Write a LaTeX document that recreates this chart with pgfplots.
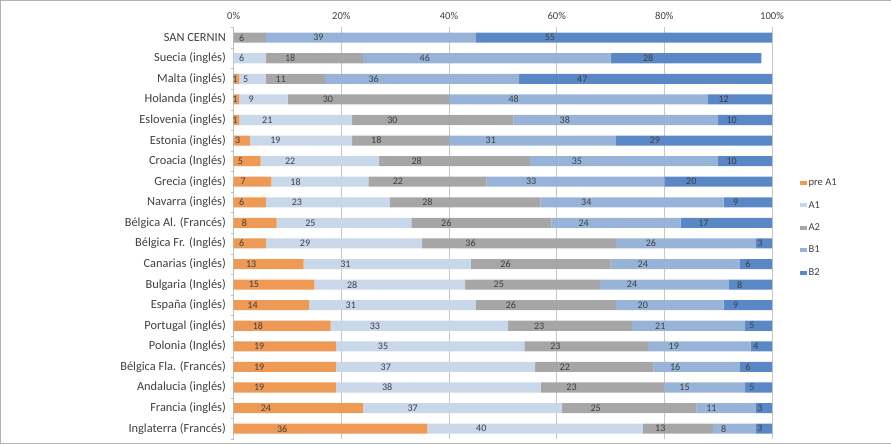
\documentclass[border=0pt]{standalone}
\usepackage{pgfplots}
\pgfplotsset{compat=1.18}
\usepackage{pgfplotstable}
\usepackage{fontspec}
\setmainfont{Carlito}
\definecolor{cpre}{HTML}{EE9A55}
\definecolor{ca1}{HTML}{C9D7EA}
\definecolor{ca2}{HTML}{A6A6A6}
\definecolor{cb1}{HTML}{97B3D8}
\definecolor{cb2}{HTML}{5A87C5}
\definecolor{labc}{HTML}{404040}
\pgfplotstableread{
idx pre A1 A2 B1 B2
0 0 0 6 39 55
1 0 6 18 46 28
2 1 5 11 36 47
3 1 9 30 48 12
4 1 21 30 38 10
5 3 19 18 31 29
6 5 22 28 35 10
7 7 18 22 33 20
8 6 23 28 34 9
9 8 25 26 24 17
10 6 29 36 26 3
11 13 31 26 24 6
12 15 28 25 24 8
13 14 31 26 20 9
14 18 33 23 21 5
15 19 35 23 19 4
16 19 37 22 16 6
17 19 38 23 15 5
18 24 37 25 11 3
19 36 40 13 8 3
}\data
\begin{document}
\begin{tikzpicture}
\begin{axis}[name=ax,
  xbar stacked, scale only axis, width=535pt, height=409pt,
  xmin=0, xmax=100, ymin=-0.5, ymax=19.5, y dir=reverse,
  bar width=10pt,
  /pgf/number format/assume math mode=true,
  axis x line*=top, axis y line*=left,
  x axis line style={draw=none},
  y axis line style={draw=gray!50},
  xtick={0,20,...,100},
  xticklabels={0\%,20\%,40\%,60\%,80\%,100\%},
  xtick style={draw=none},
  xticklabel style={font=\fontsize{10.5}{12}\selectfont, text=labc},
  xmajorgrids, grid style={gray!45, line width=0.6pt},
  ytick={0,...,19},
  yticklabels={SAN CERNIN, Suecia (inglés), Malta (inglés), Holanda (inglés), Eslovenia (inglés), Estonia (inglés), Croacia (Inglés), Grecia (inglés), Navarra (inglés), Bélgica Al. (Francés), Bélgica Fr. (Inglés), Canarias (inglés), Bulgaria (Inglés), España (inglés), Portugal (inglés), Polonia (Inglés), Bélgica Fla. (Francés), Andalucia (inglés), Francia (inglés), Inglaterra (Francés)},
  yticklabel style={font=\fontsize{12.3}{14}\selectfont, text=labc},
  major y tick style={draw=none},
  minor ytick={-0.5,0.5,...,19.5},
  minor tick length=3pt, minor tick style={gray!50},
  tick align=outside,
  lab/.style={visualization depends on={\thisrow{#1}\as\val}, nodes near coords, point meta=explicit,
     every node near coord/.append style={shift={(axis direction cs:-\val/4,0)}, anchor=center, font=\fontsize{10}{11}\selectfont, text=labc, inner sep=0pt}},
  legend style={at={(1.045,0.513)}, anchor=west, draw=none, font=\fontsize{10.5}{12}\selectfont, text=labc, row sep=10pt},
  legend cell align=left,
  legend image code/.code={\fill[#1] (0pt,-2pt) rectangle (7pt,2pt);},
]
\addplot[fill=cpre, draw=none, lab=pre] table[x=pre, y=idx, meta=pre] {\data};
\addlegendentry{pre A1}
\addplot[fill=ca1, draw=none, lab=A1] table[x=A1, y=idx, meta=A1] {\data};
\addlegendentry{A1}
\addplot[fill=ca2, draw=none, lab=A2] table[x=A2, y=idx, meta=A2] {\data};
\addlegendentry{A2}
\addplot[fill=cb1, draw=none, lab=B1] table[x=B1, y=idx, meta=B1] {\data};
\addlegendentry{B1}
\addplot[fill=cb2, draw=none, lab=B2] table[x=B2, y=idx, meta=B2] {\data};
\addlegendentry{B2}
\end{axis}
\draw[gray!60] ([xshift=-232pt,yshift=-4pt]ax.south west) rectangle ([xshift=118pt,yshift=27pt]ax.north east);
\end{tikzpicture}
\end{document}
